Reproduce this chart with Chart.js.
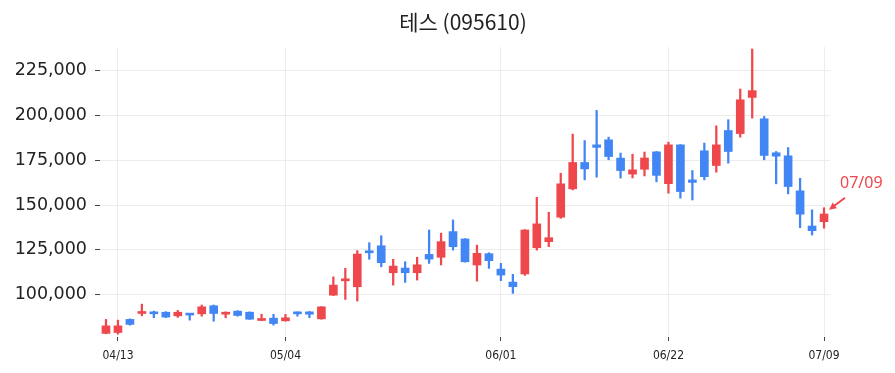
<!DOCTYPE html>
<html>
<head>
<meta charset="utf-8">
<script src="https://cdn.jsdelivr.net/npm/chart.js@4.4.0/dist/chart.umd.min.js"></script>
<style>
  html, body { margin: 0; padding: 0; background: #fff; }
  #wrap { width: 895px; height: 373px; }
</style>
</head>
<body>
<div id="wrap"><canvas id="myChart" width="895" height="373"></canvas></div>
<script>
// trading days shown on the chart
let dates = [
  "04/12", "04/13", "04/14", "04/15", "04/16", "04/19", "04/20", "04/21", "04/22", "04/23",
  "04/26", "04/27", "04/28", "04/29", "04/30", "05/04", "05/06", "05/07", "05/10", "05/11",
  "05/12", "05/13", "05/14", "05/17", "05/18", "05/20", "05/21", "05/24", "05/25", "05/26",
  "05/27", "05/28", "05/31", "06/01", "06/02", "06/03", "06/04", "06/07", "06/08", "06/09",
  "06/10", "06/11", "06/14", "06/15", "06/16", "06/17", "06/18", "06/22", "06/23", "06/24",
  "06/25", "06/28", "06/29", "06/30", "07/01", "07/02", "07/05", "07/06", "07/07", "07/08",
  "07/09"
];

let opens = [
  78500, 79000, 86300, 89600, 90500, 90300, 88300, 89100, 89400, 93900,
  89200, 90900, 90300, 85700, 87000, 85500, 90300, 90500, 86600, 99800,
  107800, 104500, 124400, 127300, 112300, 114900, 112300, 122500, 120900, 135200,
  131100, 116600, 122900, 114300, 107100, 111600, 126200, 129600, 143200, 159000,
  173700, 183500, 186300, 176100, 167200, 169900, 179600, 161900, 183500, 164000,
  180200, 172000, 191500, 189800, 209900, 198000, 179100, 177400, 157900, 138300,
  140700
];
let highs = [
  86300, 85900, 86600, 94800, 90900, 90600, 91300, 89200, 94300, 94300,
  90500, 91200, 90500, 89200, 89100, 89100, 90500, 90700, 93400, 110000,
  114700, 124600, 129000, 132900, 119800, 118400, 120900, 136100, 134300, 141700,
  131300, 127700, 123400, 117500, 111400, 136300, 154300, 146000, 167700, 189500,
  185900, 202700, 187800, 178900, 178300, 179500, 179800, 185000, 183600, 169200,
  184500, 194100, 197500, 214600, 236900, 199300, 179800, 182000, 164900, 147300,
  148500
];
let lows = [
  78300, 78100, 83100, 88300, 87200, 87300, 87400, 85900, 88100, 85300,
  87200, 88100, 86300, 85600, 83100, 85300, 88100, 87200, 86400, 99600,
  97400, 96500, 119800, 115600, 105400, 106900, 108200, 117500, 116600, 124900,
  118200, 107600, 114700, 107900, 100800, 110800, 124900, 126800, 142600, 158400,
  164000, 165500, 175200, 165000, 165100, 166200, 162900, 156600, 153800, 152800,
  164000, 168300, 173300, 187800, 198400, 175200, 161800, 156200, 137400, 133300,
  137100
];
let closes = [
  82700, 82700, 83500, 90500, 89400, 87600, 90300, 88700, 93300, 89600,
  89800, 88500, 86400, 86400, 84000, 87200, 89400, 89200, 93300, 105400,
  108600, 122700, 123400, 117900, 116000, 112300, 116700, 119900, 129600, 126800,
  118400, 123100, 119000, 111000, 104500, 136100, 139500, 131800, 161800, 173700,
  170100, 182100, 177000, 169200, 169600, 176200, 166500, 183500, 157500, 162600,
  165800, 183500, 179800, 208600, 213700, 177600, 177200, 160300, 144900, 135700,
  145000
];

let xTickIdx = [1, 15, 33, 47, 60];
let yTicks = [100000, 125000, 150000, 175000, 200000, 225000];

let upColor = "rgb(239, 72, 76)";
let downColor = "rgb(66, 133, 244)";

function candleColor(i) {
  return closes[i] >= opens[i] ? upColor : downColor;
}

function bodyData() {
  let out = [];
  for (let i = 0; i < dates.length; i++) {
    out.push({ x: i, y: [opens[i], closes[i]] });
  }
  return out;
}

function wickData() {
  let out = [];
  for (let i = 0; i < dates.length; i++) {
    out.push({ x: i, y: [lows[i], highs[i]] });
  }
  return out;
}

// title above the plot area, centred on it
let titlePlugin = {
  id: "titleText",
  afterDraw(chart) {
    let ctx = chart.ctx;
    let a = chart.chartArea;
    ctx.save();
    ctx.fillStyle = "#222";
    ctx.font = "21px 'Noto Sans CJK KR', 'Noto Sans', sans-serif";
    ctx.textAlign = "center";
    ctx.textBaseline = "middle";
    ctx.fillText("테스 (095610)", (a.left + a.right) / 2 - 2, 22);
    ctx.restore();
  }
};

// label + arrow pointing at the last candle
let lastLabelPlugin = {
  id: "lastLabel",
  afterDraw(chart) {
    let ctx = chart.ctx;
    let last = dates.length - 1;
    let px = chart.scales.x.getPixelForValue(last);
    let py = chart.scales.y.getPixelForValue(highs[last]);
    let tipX = px + 5, tipY = py + 2;
    let tailX = px + 21, tailY = py - 10;
    ctx.save();
    ctx.strokeStyle = upColor;
    ctx.fillStyle = upColor;
    ctx.lineWidth = 2;
    ctx.beginPath();
    ctx.moveTo(tailX, tailY);
    ctx.lineTo(tipX + 3, tipY - 2.2);
    ctx.stroke();
    // arrow head
    let ang = Math.atan2(tipY - tailY, tipX - tailX);
    ctx.beginPath();
    ctx.moveTo(tipX, tipY);
    ctx.lineTo(tipX - 8 * Math.cos(ang - 0.45), tipY - 8 * Math.sin(ang - 0.45));
    ctx.lineTo(tipX - 8 * Math.cos(ang + 0.45), tipY - 8 * Math.sin(ang + 0.45));
    ctx.closePath();
    ctx.fill();
    ctx.font = "16px 'Noto Sans', 'DejaVu Sans', sans-serif";
    ctx.textAlign = "left";
    ctx.textBaseline = "middle";
    ctx.fillText(dates[last], px + 16, py - 24);
    ctx.restore();
  }
};

function createChart() {
  let chartInsertion = document.getElementById("myChart").getContext("2d");
  let chart = new Chart(chartInsertion, {
    type: "bar",
    data: {
      datasets: [
        {
          label: "body",
          data: bodyData(),
          grouped: false,
          order: 0,
          barThickness: 8,
          minBarLength: 2,
          backgroundColor: (c) => candleColor(c.dataIndex),
          borderColor: (c) => candleColor(c.dataIndex),
          borderWidth: 0,
          borderSkipped: false
        },
        {
          label: "wick",
          data: wickData(),
          grouped: false,
          order: 1,
          barThickness: 1.6,
          backgroundColor: (c) => candleColor(c.dataIndex),
          borderWidth: 0
        }
      ]
    },
    options: {
      responsive: false,
      animation: false,
      layout: { padding: { top: 47, right: 65, left: 0, bottom: 0 } },
      plugins: {
        legend: { display: false },
        tooltip: { enabled: false },
        title: { display: false }
      },
      scales: {
        x: {
          type: "linear",
          min: -0.5,
          max: 60.5,
          offset: false,
          afterFit(scale) { scale.height = 36; },
          afterBuildTicks(scale) {
            scale.ticks = xTickIdx.map((v) => ({ value: v }));
          },
          ticks: {
            autoSkip: false,
            maxRotation: 0,
            padding: 8,
            color: "#222",
            font: { family: "'Liberation Sans Narrow', 'DejaVu Sans Condensed', 'DejaVu Sans', sans-serif", size: 12 },
            callback: (v) => dates[v]
          },
          grid: {
            offset: false,
            color: "#ececec",
            tickColor: "#444",
            tickLength: 4,
            tickWidth: 1
          },
          border: { display: false }
        },
        y: {
          min: 76500,
          max: 238000,
          afterFit(scale) { scale.width = 100; },
          afterBuildTicks(scale) {
            scale.ticks = yTicks.map((v) => ({ value: v }));
          },
          ticks: {
            padding: 8,
            color: "#222",
            font: { family: "'DejaVu Sans', sans-serif", size: 17.5 },
            callback: (v) => v.toLocaleString("en-US")
          },
          grid: {
            color: "#ececec",
            tickColor: "#444",
            tickLength: 5,
            tickWidth: 1
          },
          border: { display: false }
        }
      }
    },
    plugins: [titlePlugin, lastLabelPlugin]
  });
  return chart;
}

createChart();
</script>
</body>
</html>
